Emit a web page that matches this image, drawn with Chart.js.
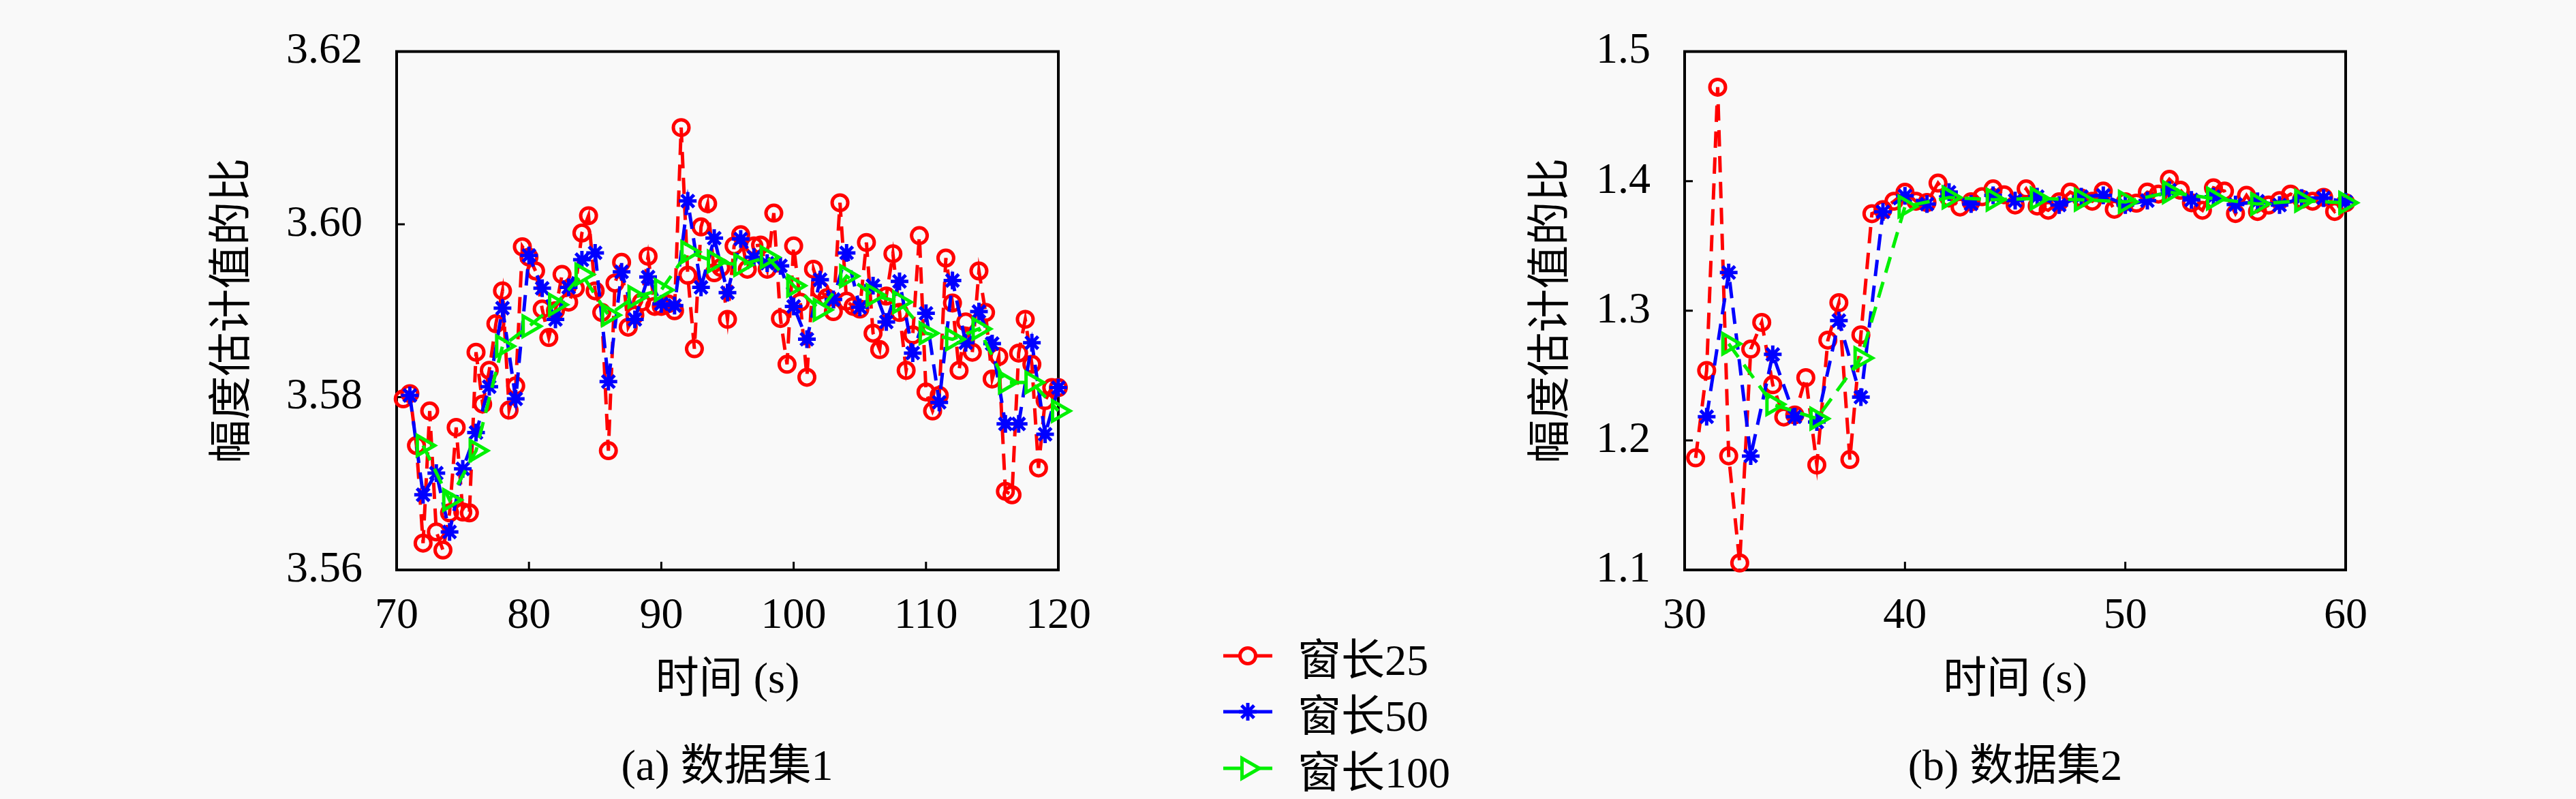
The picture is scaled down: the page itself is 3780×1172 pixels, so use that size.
<!DOCTYPE html>
<html>
<head>
<meta charset="utf-8">
<script src="https://cdn.jsdelivr.net/npm/chart.js@4.4.1/dist/chart.umd.min.js"></script>
<style>
  html, body { margin: 0; padding: 0; background: #f9f9f9; }
  body { width: 3780px; height: 1172px; position: relative; overflow: hidden;
         font-family: "Liberation Serif", "Noto Sans CJK SC", serif; color: #000; }
  canvas { position: absolute; top: 0; }
  #chartA { left: 0; }
  #chartB { left: 2000px; }
  .caption { position: absolute; font-size: 64px; line-height: 1; white-space: nowrap;
             transform: translate(-50%, -50%); }
  .legend-row { position: absolute; left: 1795px; height: 80px; display: flex;
                align-items: center; white-space: nowrap; font-size: 64px; z-index: 2; }
  .legend-row svg { display: block; margin-right: 37px; }
</style>
</head>
<body>
<canvas id="chartA" width="1640" height="1050"></canvas>
<canvas id="chartB" width="1540" height="1050"></canvas>

<div class="caption" style="left:1067px; top:1123px;">(a) 数据集1</div>
<div class="caption" style="left:2957px; top:1123px;">(b) 数据集2</div>

<div class="legend-row" style="top:922px;">
  <svg width="72" height="40"><line x1="0" y1="20" x2="72" y2="20" stroke="#ff0000" stroke-width="5"/><circle cx="36" cy="20" r="11.5" fill="#f9f9f9" stroke="#ff0000" stroke-width="5"/></svg>
  <span>窗长25</span>
</div>
<div class="legend-row" style="top:1004px;">
  <svg width="72" height="40"><line x1="0" y1="20" x2="72" y2="20" stroke="#0000ff" stroke-width="5"/><path d="M23 20H49M36 7V33M26.8 10.8L45.2 29.2M26.8 29.2L45.2 10.8" stroke="#0000ff" stroke-width="5"/></svg>
  <span>窗长50</span>
</div>
<div class="legend-row" style="top:1087px;">
  <svg width="72" height="40"><line x1="0" y1="20" x2="72" y2="20" stroke="#00f000" stroke-width="5"/><path d="M53 20L27.5 34.7L27.5 5.3Z" fill="#f9f9f9" stroke="#00f000" stroke-width="5"/></svg>
  <span>窗长100</span>
</div>

<script>
// (a) 数据集1
const leftRedT = [70.5, 71, 71.5, 72, 72.5, 73, 73.5, 74, 74.5, 75, 75.5, 76, 76.5, 77, 77.5, 78, 78.5, 79, 79.5, 80,
  80.5, 81, 81.5, 82, 82.5, 83, 83.5, 84, 84.5, 85, 85.5, 86, 86.5, 87, 87.5, 88, 88.5, 89, 89.5, 90,
  90.5, 91, 91.5, 92, 92.5, 93, 93.5, 94, 94.5, 95, 95.5, 96, 96.5, 97, 97.5, 98, 98.5, 99, 99.5, 100,
  100.5, 101, 101.5, 102, 102.5, 103, 103.5, 104, 104.5, 105, 105.5, 106, 106.5, 107, 107.5, 108, 108.5, 109, 109.5, 110,
  110.5, 111, 111.5, 112, 112.5, 113, 113.5, 114, 114.5, 115, 115.5, 116, 116.5, 117, 117.5, 118, 118.5, 119, 119.5, 120];
const leftRedV = [3.5798, 3.5804, 3.5744, 3.5631, 3.5784, 3.5644, 3.5623, 3.5666, 3.5765, 3.5667,
  3.5666, 3.5852, 3.5792, 3.5831, 3.5885, 3.5923, 3.5785, 3.5813, 3.5974, 3.5962,
  3.5946, 3.5902, 3.5869, 3.5900, 3.5942, 3.5910, 3.5926, 3.5990, 3.6010, 3.5923,
  3.5898, 3.5738, 3.5932, 3.5956, 3.5881, 3.5895, 3.5910, 3.5963, 3.5905, 3.5905,
  3.5908, 3.5900, 3.6112, 3.5941, 3.5856, 3.5997, 3.6024, 3.5944, 3.5950, 3.5890,
  3.5975, 3.5988, 3.5948, 3.5975, 3.5976, 3.5948, 3.6013, 3.5891, 3.5838, 3.5975,
  3.5910, 3.5823, 3.5948, 3.5924, 3.5915, 3.5899, 3.6025, 3.5911, 3.5905, 3.5902,
  3.5979, 3.5874, 3.5855, 3.5917, 3.5966, 3.5898, 3.5831, 3.5872, 3.5987, 3.5806,
  3.5784, 3.5802, 3.5961, 3.5909, 3.5831, 3.5887, 3.5852, 3.5946, 3.5898, 3.5821,
  3.5847, 3.5691, 3.5687, 3.5851, 3.5890, 3.5838, 3.5718, 3.5796, 3.5811, 3.5811];
const leftBlueT = [71, 72, 73, 74, 75, 76, 77, 78, 79, 80, 81, 82, 83, 84, 85, 86, 87, 88, 89, 90,
  91, 92, 93, 94, 95, 96, 97, 98, 99, 100, 101, 102, 103, 104, 105, 106, 107, 108, 109, 110,
  111, 112, 113, 114, 115, 116, 117, 118, 119, 120];
const leftBlueV = [3.5802, 3.5687, 3.5712, 3.5644, 3.5717, 3.5759, 3.5812, 3.5903, 3.5798, 3.5964,
  3.5926, 3.5890, 3.5927, 3.5959, 3.5967, 3.5818, 3.5945, 3.5890, 3.5939, 3.5908,
  3.5906, 3.6027, 3.5927, 3.5984, 3.5921, 3.5983, 3.5962, 3.5955, 3.5952, 3.5905,
  3.5867, 3.5936, 3.5913, 3.5967, 3.5904, 3.5929, 3.5887, 3.5934, 3.5851, 3.5897,
  3.5794, 3.5935, 3.5863, 3.5899, 3.5862, 3.5769, 3.5769, 3.5863, 3.5757, 3.5811];
const leftGreenT = [72, 74, 76, 78, 80, 82, 84, 86, 88, 90, 92, 94, 96, 98, 100, 102, 104, 106, 108, 110,
  112, 114, 116, 118, 120];
const leftGreenV = [3.5744, 3.5681, 3.5738, 3.5859, 3.5882, 3.5907, 3.5942, 3.5895, 3.5916, 3.5924,
  3.5968, 3.5957, 3.5953, 3.5962, 3.5929, 3.5901, 3.5940, 3.5918, 3.5910, 3.5874,
  3.5867, 3.5879, 3.5817, 3.5817, 3.5784];
const leftXTicks = [70, 80, 90, 100, 110, 120];
const leftYTicks = [3.56, 3.58, 3.60, 3.62];

// (b) 数据集2
const rightRedT = [30.5, 31, 31.5, 32, 32.5, 33, 33.5, 34, 34.5, 35, 35.5, 36, 36.5, 37, 37.5, 38, 38.5, 39, 39.5, 40,
  40.5, 41, 41.5, 42, 42.5, 43, 43.5, 44, 44.5, 45, 45.5, 46, 46.5, 47, 47.5, 48, 48.5, 49, 49.5, 50,
  50.5, 51, 51.5, 52, 52.5, 53, 53.5, 54, 54.5, 55, 55.5, 56, 56.5, 57, 57.5, 58, 58.5, 59, 59.5, 60];
const rightRedV = [1.1865, 1.2539, 1.4725, 1.1880, 1.1054, 1.2704, 1.2910, 1.2429, 1.2180, 1.2196,
  1.2484, 1.1810, 1.2773, 1.3062, 1.1852, 1.2814, 1.3749, 1.3780, 1.3845, 1.3914,
  1.3845, 1.3835, 1.3985, 1.3870, 1.3800, 1.3840, 1.3880, 1.3940, 1.3895, 1.3816,
  1.3940, 1.3808, 1.3775, 1.3840, 1.3915, 1.3870, 1.3845, 1.3923, 1.3783, 1.3840,
  1.3830, 1.3915, 1.3900, 1.4014, 1.3930, 1.3833, 1.3775, 1.3948, 1.3923, 1.3750,
  1.3890, 1.3766, 1.3815, 1.3850, 1.3900, 1.3860, 1.3845, 1.3875, 1.3766, 1.3833];
const rightBlueT = [31, 32, 33, 34, 35, 36, 37, 38, 39, 40, 41, 42, 43, 44, 45, 46, 47, 48, 49, 50,
  51, 52, 53, 54, 55, 56, 57, 58, 59, 60];
const rightBlueV = [1.2182, 1.3295, 1.1879, 1.2663, 1.2182, 1.2141, 1.2924, 1.2333, 1.3763, 1.3886,
  1.3823, 1.3915, 1.3824, 1.3890, 1.3850, 1.3880, 1.3816, 1.3880, 1.3890, 1.3816,
  1.3850, 1.3930, 1.3855, 1.3880, 1.3820, 1.3845, 1.3815, 1.3870, 1.3870, 1.3840];
const rightGreenT = [32, 34, 36, 38, 40, 42, 44, 46, 48, 50, 52, 54, 56, 58, 60];
const rightGreenV = [1.2745, 1.2278, 1.2168, 1.2635, 1.3804, 1.3874, 1.3857, 1.3866, 1.3857, 1.3840,
  1.3915, 1.3866, 1.3824, 1.3849, 1.3833];
const rightXTicks = [30, 40, 50, 60];
const rightYTicks = [1.1, 1.2, 1.3, 1.4, 1.5];

const seriesLabels = ['窗长25', '窗长50', '窗长100'];

const FONT_FAMILY = "'Liberation Serif', 'Noto Sans CJK SC', serif";
const tickFont = { family: FONT_FAMILY, size: 64 };
const titleFont = { family: FONT_FAMILY, size: 64 };

const STYLES = [
  { color: '#ff0000', pointStyle: 'circle', radius: 11.5, rotation: 0, order: 3 },
  { color: '#0000ff', pointStyle: 'star', radius: 13, rotation: 0, order: 2 },
  { color: '#00f000', pointStyle: 'triangle', radius: 17, rotation: 90, order: 1 }
];

function pts(t, v) { return t.map((x, i) => ({ x, y: v[i] })); }

function dataset(i, t, v) {
  const s = STYLES[i];
  return {
    label: seriesLabels[i],
    data: pts(t, v),
    order: s.order,
    borderColor: s.color,
    borderWidth: 5,
    borderDash: [24, 14],
    tension: 0,
    fill: false,
    clip: false,
    pointStyle: s.pointStyle,
    pointRadius: s.radius,
    pointRotation: s.rotation,
    pointBorderWidth: 5,
    pointBorderColor: s.color,
    pointBackgroundColor: 'rgba(0,0,0,0)'
  };
}

// box round the plot area, ticks pointing inwards on the bottom and left sides
const frameTicks = {
  id: 'frameTicks',
  beforeDatasetsDraw(chart) {
    const { ctx, chartArea: a, scales: { x, y } } = chart;
    ctx.save();
    ctx.strokeStyle = '#000';
    ctx.lineWidth = 4;
    ctx.strokeRect(a.left, a.top, a.right - a.left, a.bottom - a.top);
    ctx.lineWidth = 3;
    ctx.beginPath();
    x.ticks.forEach(t => {
      const px = x.getPixelForValue(t.value);
      ctx.moveTo(px, a.bottom);
      ctx.lineTo(px, a.bottom - 12);
    });
    y.ticks.forEach(t => {
      const py = y.getPixelForValue(t.value);
      ctx.moveTo(a.left, py);
      ctx.lineTo(a.left + 12, py);
    });
    ctx.stroke();
    ctx.restore();
  }
};

function makeChart(id, o) {
  return new Chart(document.getElementById(id), {
    type: 'line',
    data: {
      datasets: [
        dataset(0, o.redT, o.redV),
        dataset(1, o.blueT, o.blueV),
        dataset(2, o.greenT, o.greenV)
      ]
    },
    options: {
      responsive: false,
      animation: false,
      events: [],
      layout: { autoPadding: false, padding: o.padding },
      plugins: { legend: { display: false }, tooltip: { enabled: false } },
      scales: {
        x: {
          type: 'linear',
          min: o.xTicks[0],
          max: o.xTicks[o.xTicks.length - 1],
          afterBuildTicks: s => { s.ticks = o.xTicks.map(v => ({ value: v })); },
          afterFit: s => { s.height = 214; },
          grid: { display: false, drawTicks: false },
          border: { display: false },
          ticks: { padding: 30, color: '#000', font: tickFont, maxRotation: 0, callback: v => String(v) },
          title: { display: true, text: '时间 (s)', color: '#000', font: titleFont, padding: { top: 0, bottom: 12 } }
        },
        y: {
          type: 'linear',
          min: o.yTicks[0],
          max: o.yTicks[o.yTicks.length - 1],
          afterBuildTicks: s => { s.ticks = o.yTicks.map(v => ({ value: v })); },
          afterFit: s => { s.width = o.yWidth; },
          grid: { display: false, drawTicks: false },
          border: { display: false },
          ticks: { padding: 50, color: '#000', font: Object.assign({}, tickFont, { lineHeight: 0.8 }),
                   callback: v => Number(v).toFixed(o.dec) },
          title: { display: true, text: '幅度估计值的比', color: '#000', font: titleFont, padding: { top: 5, bottom: 0 } }
        }
      }
    },
    plugins: [frameTicks]
  });
}

makeChart('chartA', {
  redT: leftRedT, redV: leftRedV, blueT: leftBlueT, blueV: leftBlueV, greenT: leftGreenT, greenV: leftGreenV,
  xTicks: leftXTicks, yTicks: leftYTicks, dec: 2, yWidth: 282,
  padding: { left: 300, right: 87, top: 29, bottom: 0 }
});

makeChart('chartB', {
  redT: rightRedT, redV: rightRedV, blueT: rightBlueT, blueV: rightBlueV, greenT: rightGreenT, greenV: rightGreenV,
  xTicks: rightXTicks, yTicks: rightYTicks, dec: 1, yWidth: 237,
  padding: { left: 235, right: 98, top: 28, bottom: 0 }
});
</script>
</body>
</html>
